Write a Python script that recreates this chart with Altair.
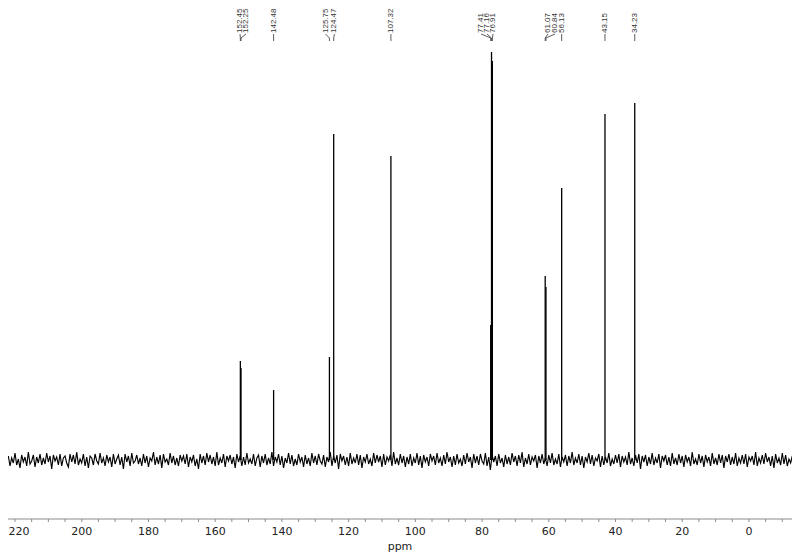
import altair as alt
import pandas as pd

# 13C NMR peaks (ppm) and their heights (arbitrary units, baseline = 0)
peak_ppm = [152.45, 152.25, 142.48, 125.75, 124.47, 107.32, 77.41, 77.16, 76.91,
            61.07, 60.84, 56.13, 43.15, 34.23]
peak_height = [99, 92, 70, 103, 326, 304, 135, 408, 399, 184, 173, 272, 346, 357]
peak_label = ["152.45", "152.25", "142.48", "125.75", "124.47", "107.32", "77.41",
              "77.16", "76.91", "61.07", "60.84", "56.13", "43.15", "34.23"]
# where each peak label sits along the ppm axis (labels fan out from crowded peaks)
label_ppm = [152.55, 150.76, 142.48, 126.92, 124.23, 107.32, 80.31, 78.51, 76.71,
             60.23, 58.13, 56.13, 43.15, 34.23]

noise_start_ppm = 222.0
noise_step_ppm = 0.5
noise_values = [
    4, -6, 2, -3, 7, -5, 1, -8, 5, -2, 3, -6, 8, -4, -1, 5, -7, 3, -3, 6,
    -5, 2, -4, 7, -2, 4, -9, 5, -1, 3, -5, 6, -6, 2, 4, -3, -7, 6, -2, 5,
    -4, 8, -5, 1, -3, 6, -6, 3, -8, 4, 2, -5, 6, -1, -4, 7, -3, 2, -6, 5,
    -2, 3, -7, 6, -4, 1, 5, -5, 3, -9, 6, -2, 4, -6, 7, -3, -1, 5, -4, 2,
    -6, 6, -3, 4, -7, 2, -1, 8, -5, 3, -4, 5, -8, 6, -2, 1, -5, 7, -3, 4,
    -5, 2, -6, 5, -1, 4, -4, 6, -7, 3, -2, 5, -6, 1, -9, 6, -3, 4, -5, 7,
    -2, 5, -4, 3, -6, 8, -5, 2, -3, 6, -7, 4, -1, 5, -4, 3, -8, 6, -2, 4,
    -6, 3, -5, 7, -3, 1, -4, 6, -6, 2, 5, -7, 4, -3, 6, -5, 2, -4, 8, -6,
    3, -2, 6, -5, 4, -8, 2, -3, 7, -4, 5, -6, 1, -5, 6, -2, 3, -7, 5, -4,
    2, -6, 7, -3, 4, -5, 6, -1, -4, 5, -7, 3, -2, 8, -6, 4, -3, 5, -9, 6,
    -1, 4, -5, 3, -6, 7, -4, 2, -3, 6, -5, 5, -8, 3, -2, 6, -4, 1, -6, 7,
    -3, 5, -2, 4, -7, 6, -5, 3, -1, 5, -6, 8, -4, 2, -5, 6, -3, 4, -7, 3,
    -4, 6, -6, 2, -3, 7, -5, 4, -8, 5, -2, 3, -6, 6, -1, 4, -5, 7, -3, 2,
    -6, 5, -4, 8, -2, 3, -7, 4, -5, 6, -3, 1, -6, 5, -4, 7, -2, 3, -8, 6,
    -3, 4, -5, 6, -1, -4, 7, -6, 3, -10, 5, -2, 4, -6, 6, -3, 2, -7, 5, -4,
    3, -5, 7, -2, 4, -6, 5, -3, 8, -7, 2, -4, 6, -5, 3, -1, 5, -8, 4, -3,
    6, -4, 2, -6, 5, -3, 7, -5, 1, -4, 6, -7, 3, -2, 5, -6, 4, -3, 8, -5,
    2, -3, 6, -5, 4, -8, 3, -2, 7, -4, 5, -6, 2, -1, 6, -7, 4, -5, 3, -3,
    7, -6, 1, -4, 5, -3, 6, -7, 4, -2, 3, -5, 8, -4, 2, -6, 5, -3, 6, -9,
    4, -2, 5, -6, 3, -4, 7, -5, 2, -3, 6, -8, 4, -1, 5, -5, 3, -6, 7, -4,
    2, -5, 6, -3, 4, -7, 5, -2, 3, -6, 8, -4, 1, -5, 6, -3, 4, -7, 5, -2,
    3, -6, 7, -4, 2, -5, 6, -3, 5, -8, 4, -2, 6, -5, 3, -4, 7, -6, 2, -3,
    5, -4, 6, -7, 3, -1, 4, -5, 8, -6, 2, -3, 5, -4, 7, -2, 3, -6, 4, -8,
    6, -3, 2, -5, 7, -4, 5, -6, 1, -3, 4, -7, 6, -2, 5, -5, 3, -4, 7, -6,
]

# axis: labelled ticks every 20 ppm, minor ticks every 5 ppm
major_ticks = list(range(220, -1, -20))
major_labels = [str(t) for t in major_ticks]
all_ticks = list(range(220, -11, -5))
axis_title = "ppm"

noise_df = pd.DataFrame({
    "ppm": [noise_start_ppm - i * noise_step_ppm for i in range(len(noise_values))],
    "v": noise_values,
})
peaks_df = pd.DataFrame({"ppm": peak_ppm, "h": peak_height, "base": [0] * len(peak_ppm)})
labels_df = pd.DataFrame({"label": label_ppm, "peak": peak_ppm, "txt": peak_label})
ticks_df = pd.DataFrame({"t": all_ticks})
ticklab_df = pd.DataFrame({"t": major_ticks, "txt": major_labels})
title_df = pd.DataFrame({"txt": [axis_title]})

W, H = 784, 511
xscale = alt.Scale(domain=[-12.91, 222.1], reverse=True, nice=False, zero=False)
yscale = alt.Scale(domain=[-59, 452], nice=False, zero=False)
FONT = "DejaVu Sans"
AXIS_GRAY = "#8c8c8c"

noise = alt.Chart(noise_df).mark_line(color="#000", strokeWidth=1.15, clip=True).encode(
    x=alt.X("ppm:Q", scale=xscale, axis=None),
    y=alt.Y("v:Q", scale=yscale, axis=None),
)

peaks = alt.Chart(peaks_df).mark_rule(color="#000", strokeWidth=1.3).encode(
    x=alt.X("ppm:Q", scale=xscale, axis=None),
    y=alt.Y("base:Q", scale=yscale, axis=None),
    y2="h:Q",
)

# hand-built x axis
domain_line = alt.Chart(title_df).mark_rule(color=AXIS_GRAY, strokeWidth=1).encode(
    x=alt.value(0), x2=alt.value(W), y=alt.value(H),
)
ticks = alt.Chart(ticks_df).mark_rule(color=AXIS_GRAY, strokeWidth=1).encode(
    x=alt.X("t:Q", scale=xscale, axis=None),
    y=alt.value(H),
    y2=alt.value(H + 3),
)
tick_labels = alt.Chart(ticklab_df).transform_filter("datum.t < 220").mark_text(
    fontSize=11, font=FONT, color="#222", baseline="middle", align="center"
).encode(
    x=alt.X("t:Q", scale=xscale, axis=None),
    y=alt.value(H + 13),
    text="txt:N",
)
# the leftmost label sits against the page edge, nudged inward to stay whole
first_label = alt.Chart(ticklab_df).transform_filter("datum.t == 220").mark_text(
    fontSize=11, font=FONT, color="#222", baseline="middle", align="center", dx=4
).encode(
    x=alt.X("t:Q", scale=xscale, axis=None),
    y=alt.value(H + 13),
    text="txt:N",
)
title = alt.Chart(title_df).mark_text(
    fontSize=11, font=FONT, color="#222", baseline="middle", align="center"
).encode(
    x=alt.value(392), y=alt.value(H + 28), text="txt:N",
)

# peak labels with connectors
diag = alt.Chart(labels_df).mark_rule(color="#333", strokeWidth=0.8).encode(
    x=alt.X("label:Q", scale=xscale, axis=None),
    x2="peak:Q",
    y=alt.value(26),
    y2=alt.value(30),
)
stem = alt.Chart(labels_df).mark_rule(color="#333", strokeWidth=0.8).encode(
    x=alt.X("peak:Q", scale=xscale, axis=None),
    y=alt.value(30),
    y2=alt.value(33),
)
texts = alt.Chart(labels_df).mark_text(
    angle=270, align="left", baseline="middle", fontSize=8,
    font="Liberation Sans", color="#333"
).encode(
    x=alt.X("label:Q", scale=xscale, axis=None),
    y=alt.value(25),
    text="txt:N",
)

chart = alt.layer(noise, peaks, domain_line, ticks, tick_labels, first_label, title,
                  diag, stem, texts).properties(
    width=W, height=H,
    autosize=alt.AutoSizeParams(type="none"),
    padding={"left": 0, "top": 0, "right": 0, "bottom": 34},
    background="white",
).configure_view(stroke=None)

chart.save("out.html", embed_options={"renderer": "svg", "actions": False})
